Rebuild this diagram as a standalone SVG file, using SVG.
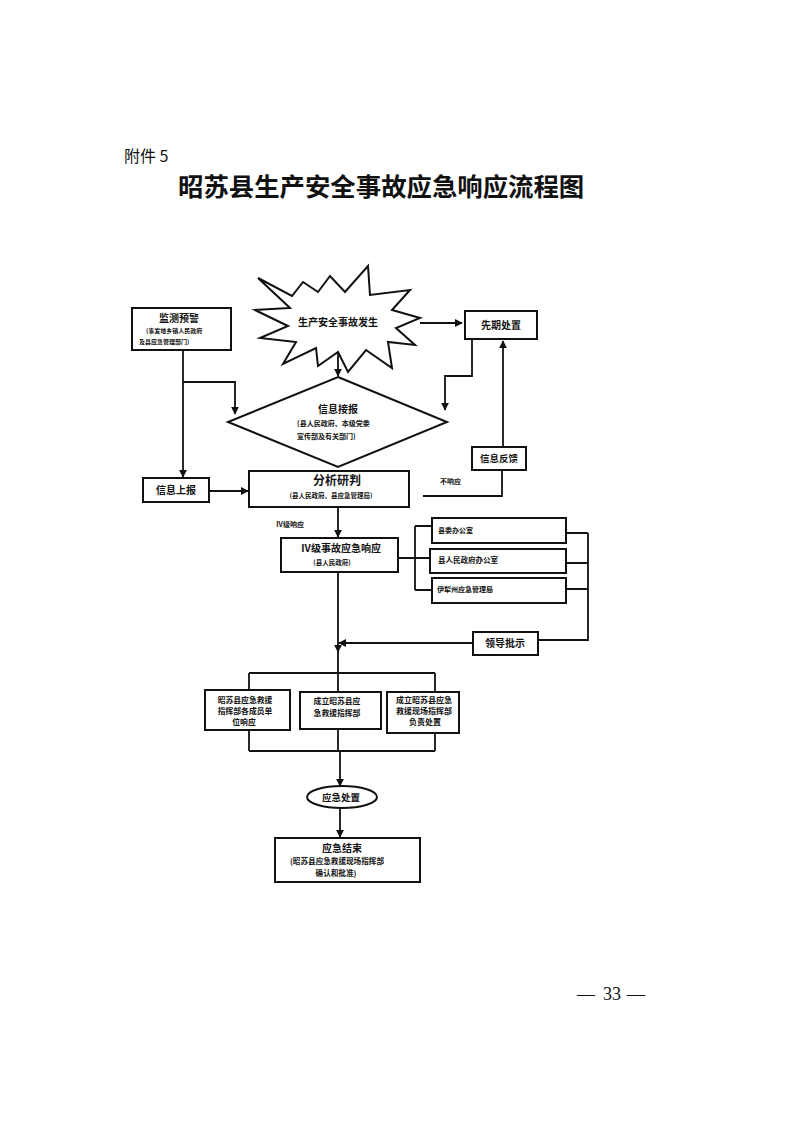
<svg xmlns="http://www.w3.org/2000/svg" width="793" height="1122" viewBox="0 0 793 1122">
<style>
.bx{fill:#fff;stroke:#111;stroke-width:2}
.ln{fill:none;stroke:#111;stroke-width:1.8}
.t{font-family:"Noto Sans CJK SC","Liberation Sans",sans-serif;font-weight:bold;fill:#111}
.m{text-anchor:middle}
.pg{font-family:"Liberation Serif",serif;font-size:18px;fill:#111}
</style>
<defs>
<marker id="ah" viewBox="0 0 10 10" refX="9" refY="5" markerWidth="8" markerHeight="8" markerUnits="userSpaceOnUse" orient="auto">
<path d="M0,0 L10,5 L0,10 z" fill="#111"/>
</marker>
</defs>
<rect width="793" height="1122" fill="#fff"/>
<text x="124" y="162" class="t" style="font-weight:normal" font-size="16">附件 5</text>
<text x="178" y="196" class="t" font-size="25.4">昭苏县生产安全事故应急响应流程图</text>

<g id="connectors">
<path class="ln" d="M420,323 H462" marker-end="url(#ah)"/>
<path class="ln" d="M338,352 V376" marker-end="url(#ah)"/>
<path class="ln" d="M183,350 V477" marker-end="url(#ah)"/>
<path class="ln" d="M183,382 H235 V414" marker-end="url(#ah)"/>
<path class="ln" d="M472,339 V376 H445 V410" marker-end="url(#ah)"/>
<path class="ln" d="M503,447 V341" marker-end="url(#ah)"/>
<path class="ln" d="M423,496 H502 V470"/>
<path class="ln" d="M209,491 H248" marker-end="url(#ah)"/>
<path class="ln" d="M338,507 V537" marker-end="url(#ah)"/>
<path class="ln" d="M398,558 H415 M415,526 V590 M415,526 H432 M415,558 H430 M415,590 H432"/>
<path class="ln" d="M566,533 H588 M566,563 H588 M566,589 H588 M588,533 V640 H538"/>
<path class="ln" d="M473,643 H339" marker-end="url(#ah)"/>
<path class="ln" d="M338,572 V652" marker-end="url(#ah)"/>
<path class="ln" d="M338,650 V673 M249,673 H435 M249,673 V690 M338,673 V692 M435,673 V692"/>
<path class="ln" d="M249,730 V751 M338,729 V751 M435,733 V751 M249,751 H435"/>
<path class="ln" d="M340,751 V786" marker-end="url(#ah)"/>
<path class="ln" d="M340,807 V837" marker-end="url(#ah)"/>
</g>

<g id="n-accident">
<polygon class="bx" points="258,278 292,296 303,282 318,292 330,276 345,292 368,266 370,295 410,290 392,310 420,318 396,328 415,345 388,342 392,368 366,350 348,372 338,352 318,366 316,348 283,364 296,342 260,338 288,326 255,310 290,308"/>
<text x="338" y="326" class="t m" font-size="10">生产安全事故发生</text>
</g>

<g id="n-monitor">
<rect class="bx" x="132" y="308" width="99" height="42"/>
<text x="179" y="322" class="t m" font-size="10">监测预警</text>
<text x="146" y="333" class="t" font-size="6">(事发地乡镇人民政府</text>
<text x="139" y="344" class="t" font-size="6">及县应急管理部门)</text>
</g>

<g id="n-initial">
<rect class="bx" x="465" y="311" width="72" height="28"/>
<text x="501" y="329" class="t m" font-size="10">先期处置</text>
</g>

<g id="n-receive">
<polygon class="bx" points="338,377 447,422 338,467 228,422"/>
<text x="338" y="413" class="t m" font-size="10">信息接报</text>
<text x="297" y="426" class="t" font-size="7">(县人民政府、本级党委</text>
<text x="297" y="439" class="t" font-size="7">宣传部及有关部门)</text>
</g>

<g id="n-feedback">
<rect class="bx" x="472" y="447" width="54" height="23"/>
<text x="499" y="462" class="t m" font-size="9.5">信息反馈</text>
</g>

<g id="n-report">
<rect class="bx" x="143" y="478" width="66" height="24"/>
<text x="176" y="494" class="t m" font-size="10">信息上报</text>
</g>

<g id="n-analysis">
<rect class="bx" x="249" y="471" width="160" height="36"/>
<text x="337" y="485" class="t m" font-size="12">分析研判</text>
<text x="331" y="498" class="t m" font-size="6.5">(县人民政府、县应急管理局)</text>
</g>

<text x="440" y="484" class="t" font-size="7">不响应</text>
<text x="276" y="527" class="t" font-size="7">Ⅳ级响应</text>

<g id="n-level4">
<rect class="bx" x="281" y="538" width="117" height="34"/>
<text x="341" y="552" class="t m" font-size="10">Ⅳ级事故应急响应</text>
<text x="332" y="565" class="t m" font-size="6.5">(县人民政府)</text>
</g>

<g id="n-office1">
<rect class="bx" x="432" y="518" width="134" height="25"/>
<text x="438" y="533" class="t" font-size="7">县委办公室</text>
</g>
<g id="n-office2">
<rect class="bx" x="430" y="549" width="136" height="24"/>
<text x="438" y="563" class="t" font-size="7.5">县人民政府办公室</text>
</g>
<g id="n-office3">
<rect class="bx" x="432" y="578" width="134" height="25"/>
<text x="437" y="592" class="t" font-size="7">伊犁州应急管理局</text>
</g>

<g id="n-leader">
<rect class="bx" x="473" y="632" width="65" height="23"/>
<text x="505" y="647" class="t m" font-size="10">领导批示</text>
</g>

<g id="n-members">
<rect class="bx" x="205" y="690" width="85" height="40"/>
<text x="245" y="703" class="t m" font-size="7.8">昭苏县应急救援</text>
<text x="245" y="714" class="t m" font-size="7.8">指挥部各成员单</text>
<text x="244" y="725" class="t m" font-size="7.8">位响应</text>
</g>
<g id="n-hq">
<rect class="bx" x="300" y="692" width="81" height="37"/>
<text x="337" y="704" class="t m" font-size="7.8">成立昭苏县应</text>
<text x="337" y="716" class="t m" font-size="7.8">急救援指挥部</text>
</g>
<g id="n-site">
<rect class="bx" x="387" y="692" width="72" height="41"/>
<text x="424" y="703" class="t m" font-size="8">成立昭苏县应急</text>
<text x="424" y="714" class="t m" font-size="8">救援现场指挥部</text>
<text x="425" y="725" class="t m" font-size="8">负责处置</text>
</g>

<g id="n-handle">
<ellipse class="bx" cx="342" cy="797" rx="35" ry="11"/>
<text x="341" y="801" class="t m" font-size="9.5">应急处置</text>
</g>

<g id="n-end">
<rect class="bx" x="275" y="838" width="145" height="44"/>
<text x="342" y="852" class="t m" font-size="10">应急结束</text>
<text x="337" y="864" class="t m" font-size="7.6">(昭苏县应急救援现场指挥部</text>
<text x="336" y="876" class="t m" font-size="7.6">确认和批准)</text>
</g>

<text x="577" y="1000" class="pg">—</text>
<text x="603" y="1000" class="pg">33</text>
<text x="627" y="1000" class="pg">—</text>
</svg>
